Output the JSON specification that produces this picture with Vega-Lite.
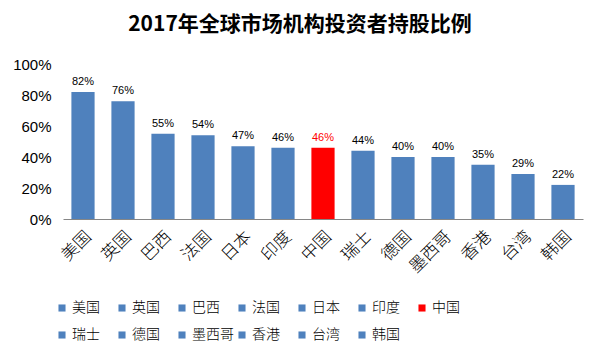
{
  "$schema": "https://vega.github.io/schema/vega-lite/v6.json",
  "width": 520,
  "height": 155,
  "autosize": {"type": "none"},
  "padding": {"left": 63, "top": 64, "right": 17, "bottom": 140},
  "background": "white",
  "title": {
    "text": "2017年全球市场机构投资者持股比例",
    "font": "Noto Sans CJK SC",
    "fontSize": 21,
    "fontWeight": "bold",
    "color": "#000000",
    "anchor": "middle",
    "dx": -23,
    "offset": 22
  },
  "config": {"view": {"stroke": null}},
  "data": {
    "values": [
      {"country": "美国", "value": 0.82},
      {"country": "英国", "value": 0.76},
      {"country": "巴西", "value": 0.55},
      {"country": "法国", "value": 0.54},
      {"country": "日本", "value": 0.47},
      {"country": "印度", "value": 0.46},
      {"country": "中国", "value": 0.46},
      {"country": "瑞士", "value": 0.44},
      {"country": "德国", "value": 0.40},
      {"country": "墨西哥", "value": 0.40},
      {"country": "香港", "value": 0.35},
      {"country": "台湾", "value": 0.29},
      {"country": "韩国", "value": 0.22}
    ]
  },
  "encoding": {
    "x": {
      "field": "country",
      "type": "nominal",
      "sort": null,
      "scale": {"paddingInner": 0.42, "paddingOuter": 0.21},
      "axis": {
        "title": null,
        "labelAngle": -45,
        "labelAlign": "right",
        "labelBaseline": "top",
        "labelFont": "Noto Sans CJK SC",
        "labelFontSize": 17,
        "labelFontWeight": 300,
        "labelColor": "#000000",
        "labelPadding": 9,
        "ticks": false,
        "domainColor": "#868686",
        "domainWidth": 1
      }
    },
    "y": {
      "field": "value",
      "type": "quantitative",
      "scale": {"domain": [0, 1]},
      "axis": {
        "title": null,
        "format": ".0%",
        "values": [0, 0.2, 0.4, 0.6, 0.8, 1.0],
        "domain": false,
        "ticks": false,
        "grid": false,
        "labelFont": "Liberation Sans",
        "labelFontSize": 15,
        "labelColor": "#000000",
        "labelPadding": 12
      }
    }
  },
  "layer": [
    {
      "mark": {"type": "bar"},
      "encoding": {
        "color": {
          "field": "country",
          "type": "nominal",
          "sort": null,
          "scale": {
            "domain": ["美国", "英国", "巴西", "法国", "日本", "印度", "中国", "瑞士", "德国", "墨西哥", "香港", "台湾", "韩国"],
            "range": ["#4F81BD", "#4F81BD", "#4F81BD", "#4F81BD", "#4F81BD", "#4F81BD", "#FF0000", "#4F81BD", "#4F81BD", "#4F81BD", "#4F81BD", "#4F81BD", "#4F81BD"]
          },
          "legend": {
            "title": null,
            "orient": "none",
            "legendX": -8,
            "legendY": 237,
            "direction": "horizontal",
            "columns": 7,
            "gridAlign": "all",
            "columnPadding": 1,
            "rowPadding": 13,
            "symbolType": "square",
            "symbolSize": 50,
            "symbolStrokeWidth": 0,
            "symbolOffset": 0,
            "labelOffset": 3,
            "labelFont": "Noto Sans CJK SC",
            "labelFontSize": 14,
            "labelFontWeight": 300,
            "labelColor": "#000000",
            "labelLimit": 60
          }
        }
      }
    },
    {
      "mark": {"type": "text", "dy": -10, "font": "Liberation Sans", "fontSize": 11},
      "encoding": {
        "text": {"field": "value", "type": "quantitative", "format": ".0%"},
        "color": {
          "condition": {"test": "datum.country === '中国'", "value": "#FF0000"},
          "value": "#000000"
        }
      }
    }
  ]
}
